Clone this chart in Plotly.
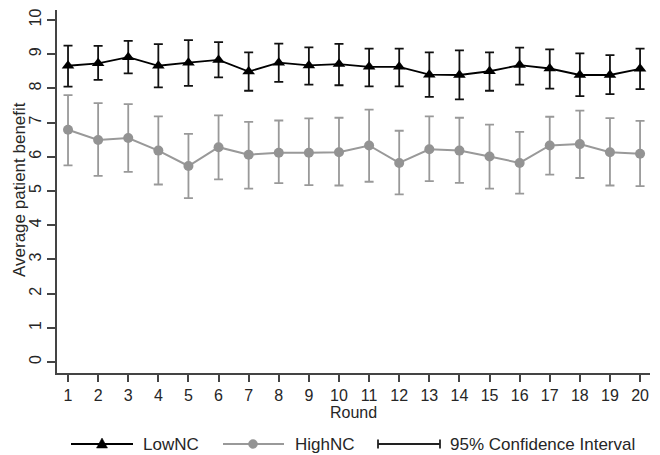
import plotly.graph_objects as go

rounds = list(range(1, 21))

low_mean = [8.66, 8.73, 8.91, 8.66, 8.75, 8.83, 8.49, 8.75, 8.67, 8.71,
            8.63, 8.63, 8.40, 8.39, 8.50, 8.68, 8.58, 8.39, 8.39, 8.57]
low_upper = [9.25, 9.24, 9.39, 9.29, 9.41, 9.35, 9.05, 9.31, 9.20, 9.30,
             9.16, 9.16, 9.05, 9.11, 9.05, 9.19, 9.14, 9.02, 8.97, 9.16]
low_lower = [8.05, 8.25, 8.44, 8.03, 8.07, 8.32, 7.93, 8.19, 8.11, 8.09,
             8.06, 8.06, 7.75, 7.68, 7.93, 8.11, 7.99, 7.77, 7.83, 7.98]

high_mean = [6.79, 6.49, 6.55, 6.18, 5.73, 6.28, 6.06, 6.12, 6.12, 6.13,
             6.33, 5.82, 6.22, 6.18, 6.01, 5.82, 6.33, 6.37, 6.13, 6.09]
high_upper = [7.80, 7.57, 7.54, 7.18, 6.67, 7.21, 7.02, 7.06, 7.12, 7.14,
              7.38, 6.76, 7.18, 7.14, 6.94, 6.73, 7.17, 7.35, 7.13, 7.05]
high_lower = [5.75, 5.44, 5.56, 5.19, 4.79, 5.34, 5.07, 5.23, 5.17, 5.16,
              5.27, 4.90, 5.29, 5.24, 5.07, 4.92, 5.48, 5.38, 5.16, 5.14]

series_names = ["LowNC", "HighNC", "95% Confidence Interval"]
x_title = "Round"
y_title = "Average patient benefit"

BLACK = "#000000"
GRAY = "#999999"
GRAY_M = "#939393"
TXT = "#262626"
FONT = "Liberation Sans, Arial, sans-serif"

fig = go.Figure()

fig.add_trace(go.Scatter(
    x=rounds, y=high_mean, mode="lines+markers",
    line=dict(color=GRAY, width=2),
    marker=dict(symbol="circle", size=10, color=GRAY_M),
    error_y=dict(type="data", symmetric=False,
                 array=[u - m for u, m in zip(high_upper, high_mean)],
                 arrayminus=[m - l for m, l in zip(high_mean, high_lower)],
                 color=GRAY, thickness=1.8, width=4.5),
    showlegend=False, name=series_names[1]))

fig.add_trace(go.Scatter(
    x=rounds, y=low_mean, mode="lines+markers",
    line=dict(color=BLACK, width=1.8),
    marker=dict(symbol="triangle-up", size=11, color=BLACK),
    error_y=dict(type="data", symmetric=False,
                 array=[u - m for u, m in zip(low_upper, low_mean)],
                 arrayminus=[m - l for m, l in zip(low_mean, low_lower)],
                 color="#111111", thickness=1.8, width=4.5),
    showlegend=False, name=series_names[0]))

# page offset (browser body margin)
OFF = 8
# plot area in reference-window pixels
L, R, T, B = 57, 650, 10, 373
W, H = 660 - OFF, 455 - OFF


def px(x):
    return (x - L) / (R - L)


def py(y):
    return (B - y) / (B - T)


shapes = []
annotations = []
ly = 444
LEG_FONT = dict(size=17, color=TXT, family=FONT)
# LowNC legend
shapes.append(dict(type="line", xref="paper", yref="paper", x0=px(71), x1=px(133),
                   y0=py(ly), y1=py(ly), line=dict(color=BLACK, width=1.8)))
shapes.append(dict(type="path", xref="paper", yref="paper",
                   path=f"M {px(96.5)} {py(ly+4)} L {px(107.5)} {py(ly+4)} L {px(102)} {py(ly-6)} Z",
                   fillcolor=BLACK, line=dict(color=BLACK, width=0.5)))
annotations.append(dict(x=px(141), y=py(ly), xref="paper", yref="paper", text=series_names[0],
                        showarrow=False, xanchor="left", yanchor="middle", font=LEG_FONT))
# HighNC legend
shapes.append(dict(type="line", xref="paper", yref="paper", x0=px(223), x1=px(284),
                   y0=py(ly), y1=py(ly), line=dict(color=GRAY, width=2)))
shapes.append(dict(type="circle", xref="paper", yref="paper", x0=px(248.5), x1=px(257.5),
                   y0=py(ly+4.5), y1=py(ly-4.5), fillcolor=GRAY_M, line=dict(color=GRAY_M, width=0.5)))
annotations.append(dict(x=px(293), y=py(ly), xref="paper", yref="paper", text=series_names[1],
                        showarrow=False, xanchor="left", yanchor="middle", font=LEG_FONT))
# CI legend
shapes.append(dict(type="line", xref="paper", yref="paper", x0=px(378), x1=px(440),
                   y0=py(ly), y1=py(ly), line=dict(color="#222222", width=1.8)))
for cx in (378, 440):
    shapes.append(dict(type="line", xref="paper", yref="paper", x0=px(cx), x1=px(cx),
                       y0=py(ly - 4.5), y1=py(ly + 4.5), line=dict(color="#222222", width=1.8)))
annotations.append(dict(x=px(448), y=py(ly), xref="paper", yref="paper", text=series_names[2],
                        showarrow=False, xanchor="left", yanchor="middle", font=LEG_FONT))

# y-axis title as rotated annotation
annotations.append(dict(x=px(19), y=py(190), xref="paper", yref="paper", text=y_title,
                        textangle=-90, showarrow=False, xanchor="center", yanchor="middle",
                        font=dict(size=17, color=TXT, family=FONT)))

fig.update_layout(
    width=W, height=H,
    margin=dict(l=L - OFF, r=660 - R, t=T - OFF, b=455 - B),
    paper_bgcolor="white", plot_bgcolor="white",
    font=dict(family=FONT, size=16, color=TXT),
    shapes=shapes, annotations=annotations,
    showlegend=False,
)

fig.update_xaxes(
    range=[0.634, 20.33], tickvals=rounds, ticktext=[str(r) for r in rounds],
    showgrid=False, zeroline=False, showline=True, linecolor="#444444", linewidth=1.5,
    ticks="outside", ticklen=7, tickcolor="#444444", tickwidth=1.5,
    tickfont=dict(size=16, color=TXT),
    title=dict(text=x_title, standoff=0, font=dict(size=16, color=TXT)),
)
fig.update_yaxes(
    range=[-0.32, 10.29], tickvals=list(range(0, 11)), tickangle=-90,
    showgrid=False, zeroline=False, showline=True, linecolor="#444444", linewidth=1.5,
    ticks="outside", ticklen=8, tickcolor="#444444", tickwidth=1.5,
    tickfont=dict(size=16, color=TXT),
)

fig.write_html("out.html")
